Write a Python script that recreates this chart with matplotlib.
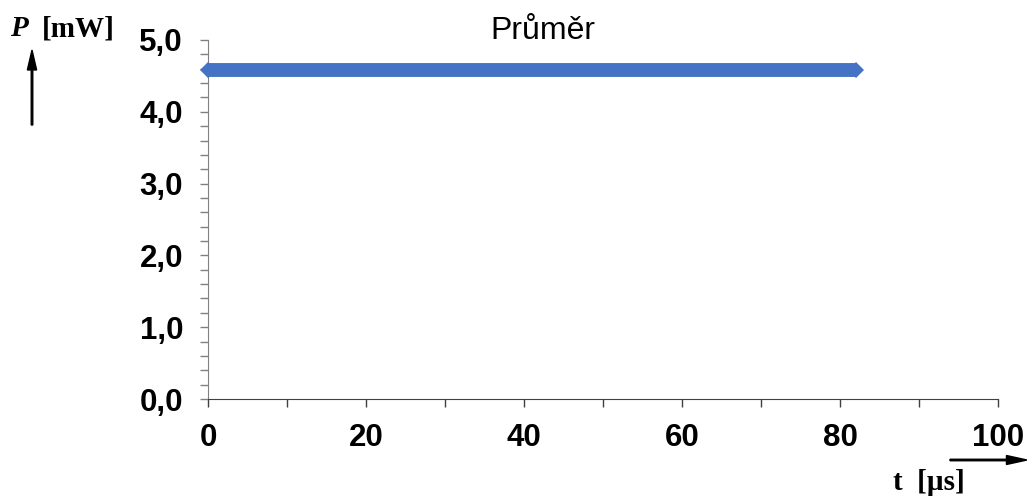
import matplotlib
matplotlib.use("Agg")
import matplotlib.pyplot as plt

# data
t_us = [0, 82]
p_mw = [4.58, 4.58]
x_ticks = list(range(0, 101, 10))
x_labels = [str(v) if v % 20 == 0 else "" for v in x_ticks]
y_ticks = [i * 0.2 for i in range(26)]
y_labels = [("%.1f" % v).replace(".", ",") if abs(v - round(v)) < 1e-6 else "" for v in y_ticks]

plt.rcParams['font.family'] = ['Liberation Sans', 'DejaVu Sans']

fig = plt.figure(figsize=(10.27, 4.99), dpi=100)
ax = fig.add_axes([208 / 1027, 1 - 399 / 499, 790 / 1027, 359 / 499])

ax.plot(t_us, p_mw, color="#4472C4", lw=10, solid_capstyle="butt",
        marker="D", markersize=8.5, markevery=[0, -1], markeredgewidth=0,
        clip_on=False, zorder=5)

ax.set_xlim(0, 100)
ax.set_ylim(0, 5)
ax.set_xticks(x_ticks)
ax.set_xticklabels(x_labels)
ax.set_yticks(y_ticks)
ax.set_yticklabels(y_labels)
for s in ["top", "right"]:
    ax.spines[s].set_visible(False)
ax.spines["left"].set_color("#808080")
ax.spines["bottom"].set_color("#404040")
ax.tick_params(axis="y", direction="out", length=6, width=1, color="#808080", pad=12)
ax.tick_params(axis="x", direction="out", length=6, width=1, color="#404040", pad=11)
for lab in ax.get_xticklabels() + ax.get_yticklabels():
    lab.set_fontsize(22.5)
    lab.set_fontweight("bold")

fig.text(543 / 1027, 1 - 31 / 499, "Průměr", fontsize=23, ha="center", va="center")

serif = ["Liberation Serif", "DejaVu Serif"]
fig.text(10 / 1027, 1 - 29 / 499, "P", fontsize=21, fontweight="bold", style="italic",
         family=serif, va="center")
fig.text(42 / 1027, 1 - 29 / 499, "[mW]", fontsize=21, fontweight="bold",
         family=serif, va="center")
fig.text(893 / 1027, 1 - 483 / 499, "t  [µs]", fontsize=21, fontweight="bold",
         family=serif, va="center")

fig.patches.append(matplotlib.patches.FancyArrow(
    32 / 1027, 1 - 125 / 499, 0, 75 / 499, width=0.0015, head_width=0.009,
    head_length=0.04, length_includes_head=True, color="black",
    transform=fig.transFigure, figure=fig))
fig.patches.append(matplotlib.patches.FancyArrow(
    950 / 1027, 1 - 460 / 499, 77 / 1027, 0, width=0.003, head_width=0.018,
    head_length=0.02, length_includes_head=True, color="black",
    transform=fig.transFigure, figure=fig))

fig.savefig("out.png", dpi=100)
